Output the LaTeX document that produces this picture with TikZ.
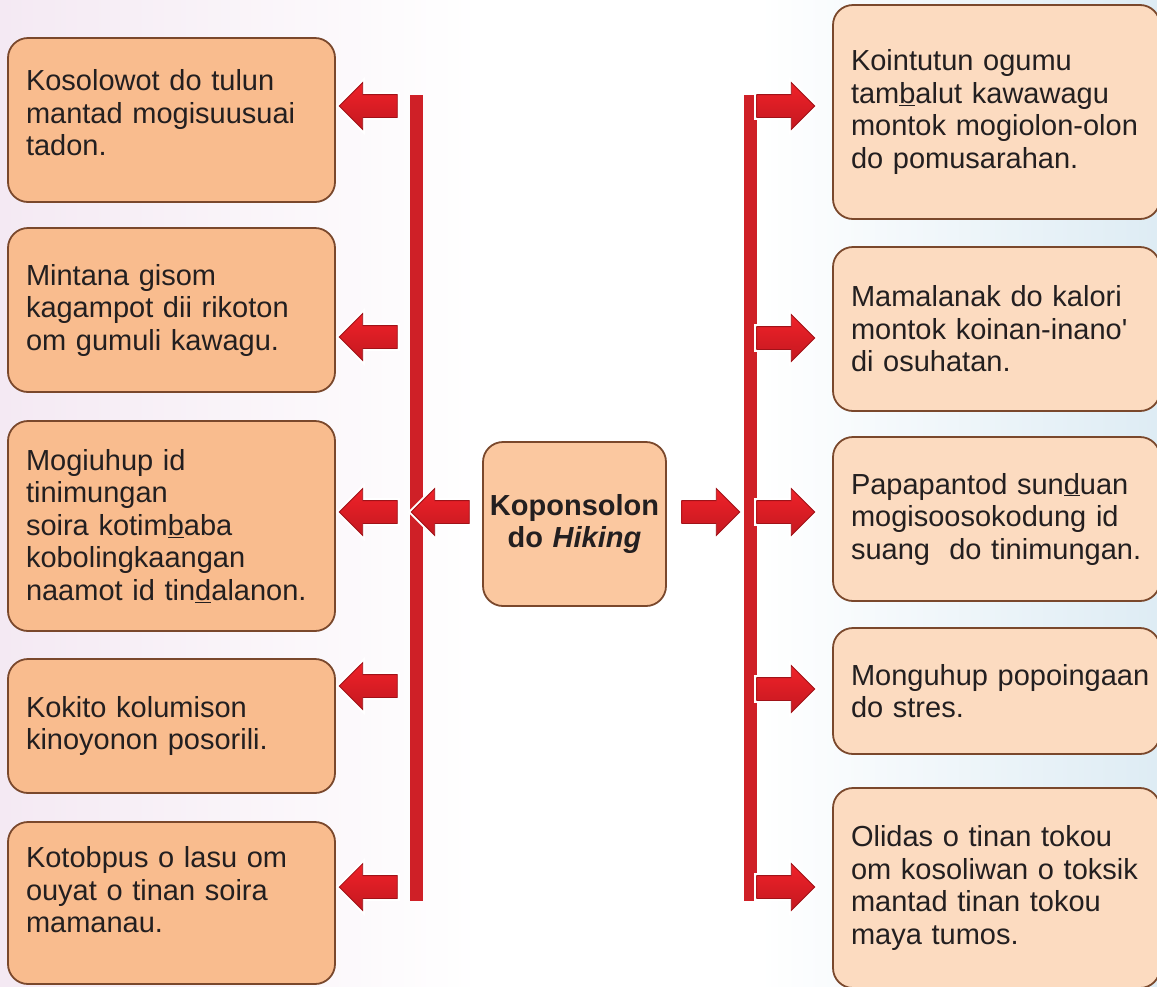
\documentclass[tikz,border=0pt]{standalone}
\usepackage{fontspec}
\setmainfont{Liberation Sans}
\usetikzlibrary{shapes.arrows}

\definecolor{leftfill}{RGB}{249,188,142}
\definecolor{rightfill}{RGB}{252,219,192}
\definecolor{centerfill}{RGB}{251,200,160}
\definecolor{boxline}{RGB}{122,72,44}
\definecolor{textgray}{RGB}{35,31,32}
\definecolor{barred}{RGB}{207,32,39}
\definecolor{arrowtop}{RGB}{240,34,41}
\definecolor{arrowbot}{RGB}{196,24,32}
\definecolor{arrowedge}{RGB}{160,18,24}
\definecolor{bgpink}{RGB}{244,233,243}
\definecolor{bgblue}{RGB}{222,236,244}

\begin{document}
\begin{tikzpicture}[x=1pt,y=-1pt,
    box/.style={draw=boxline, line width=1.8pt, rounded corners=20pt, text=textgray,
      align=left, text width=291pt, inner xsep=18pt, inner ysep=0pt, minimum width=327pt,
      font=\fontsize{29pt}{32.5pt}\selectfont},
    leftbox/.style={box, fill=leftfill},
    rightbox/.style={box, fill=rightfill},
    bar/.style={draw=barred, line width=13pt},
    redarrow/.style={single arrow, inner xsep=0pt, inner ysep=11pt, minimum height=58pt,
      single arrow head extend=12pt, top color=arrowtop, bottom color=arrowbot,
      draw=arrowedge, line width=0.8pt, preaction={draw=white, line width=5pt}},
    leftarrow/.style={redarrow, shape border rotate=180}]
    \fill[white] (0,0) rectangle (1157,986);
    \fill[left color=bgpink, right color=white] (0,0) rectangle (480,986);
    \fill[left color=white, right color=bgblue] (760,0) rectangle (1157,986);
    \useasboundingbox (0,0) rectangle (1157,986);

    % left column
    \node[leftbox, minimum height=164pt, text depth=80pt] (left1) at (171.5,120)
      {Kosolowot do tulun\\mantad mogisuusuai\\tadon.};
    \node[leftbox, minimum height=164pt] (left2) at (171.5,310)
      {Mintana gisom\\kagampot dii rikoton\\om gumuli kawagu.};
    \node[leftbox, minimum height=210pt] (left3) at (171.5,526)
      {Mogiuhup id\\tinimungan\\soira kotim\underline{b}aba\\kobolingkaangan\\naamot id tin\underline{d}alanon.};
    \node[leftbox, minimum height=134pt] (left4) at (171.5,726)
      {Kokito kolumison\\kinoyonon posorili.};
    \node[leftbox, minimum height=162pt, text depth=92pt] (left5) at (171.5,903)
      {Kotobpus o lasu om\\ouyat o tinan soira\\mamanau.};

    % right column
    \node[rightbox, minimum height=214pt] (right1) at (996.5,112)
      {Kointutun ogumu\\tam\underline{b}alut kawawagu\\montok mogiolon-olon\\do pomusarahan.};
    \node[rightbox, minimum height=164pt] (right2) at (996.5,329)
      {Mamalanak do kalori\\montok koinan-inano\textquotesingle\\di osuhatan.};
    \node[rightbox, minimum height=164pt] (right3) at (996.5,519)
      {Papapantod sun\underline{d}uan\\mogisoosokodung id\\suang~ do tinimungan.};
    \node[rightbox, minimum height=126pt] (right4) at (996.5,691)
      {\mbox{Monguhup popoingaan}\\do stres.};
    \node[rightbox, minimum height=200pt] (right5) at (996.5,888)
      {Olidas o tinan tokou\\om kosoliwan o toksik\\mantad tinan tokou\\maya tumos.};

    % centre
    \node[box, fill=centerfill, align=center, text width=175pt, inner xsep=4pt, minimum width=183pt,
      minimum height=164pt, font=\fontsize{29pt}{32.5pt}\selectfont\bfseries] (hiking) at (574.5,524)
      {Koponsolon\\do \textit{Hiking}};

    % bars
    \coordinate (barLtop) at (416.5,95);
    \coordinate (barLbot) at (416.5,901);
    \coordinate (barRtop) at (750,95);
    \coordinate (barRbot) at (750,901);
    \draw[bar] (barLtop) -- (barLbot);
    \draw[bar] (barRtop) -- (barRbot);

    % arrows
    \node[leftarrow] (aL1) at (374,106) {};
    \node[leftarrow] (aL2) at (374,337) {};
    \node[leftarrow] (aL3) at (374,512) {};
    \node[leftarrow] (aL4) at (374,686) {};
    \node[leftarrow] (aL5) at (374,887) {};
    \node[leftarrow] (aLc) at (446,512) {};
    \node[redarrow] (aR1) at (780,106) {};
    \node[redarrow] (aR2) at (780,338) {};
    \node[redarrow] (aR3) at (780,512) {};
    \node[redarrow] (aR4) at (780,689) {};
    \node[redarrow] (aR5) at (780,887) {};
    \node[redarrow] (aRc) at (705,512) {};
  \end{tikzpicture}
\end{document}
